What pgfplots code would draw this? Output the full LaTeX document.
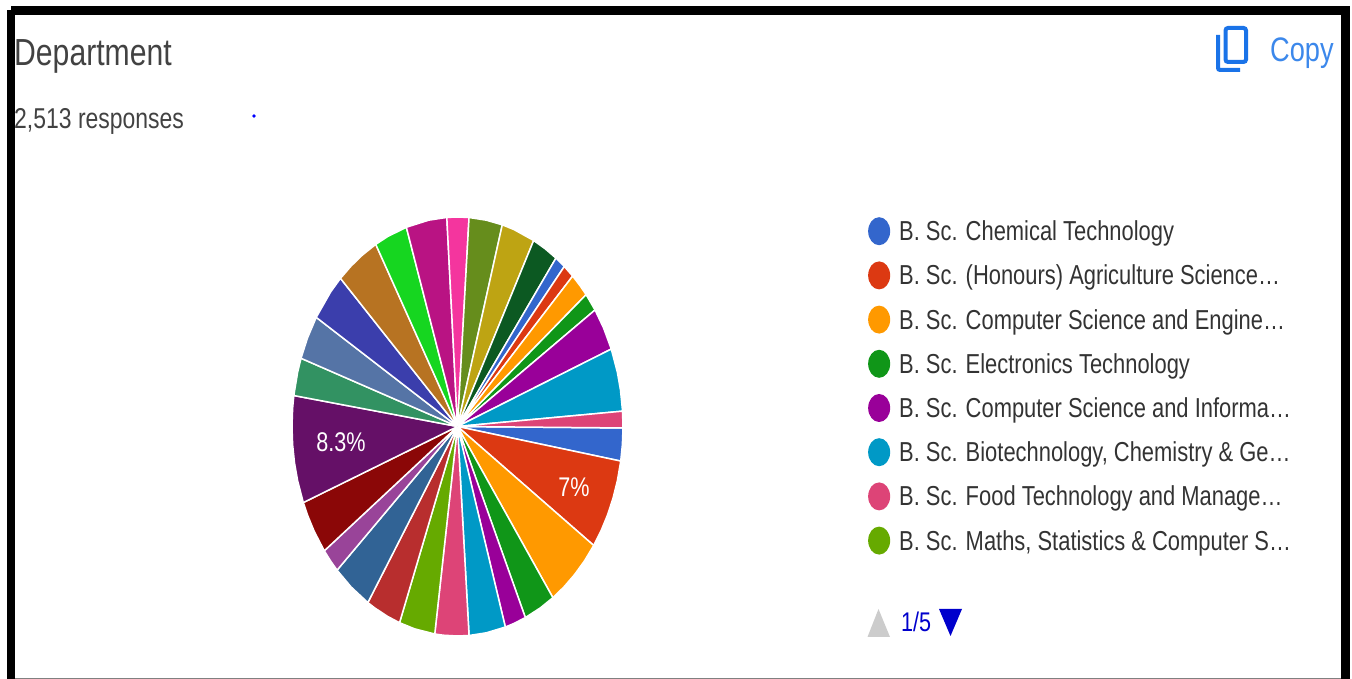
\documentclass[border=0pt]{standalone}
\usepackage{pgfplots}
\pgfplotsset{compat=1.18}
\usepackage{fontspec}
\setmainfont[FakeStretch=0.8]{Liberation Sans}

% google chart palette
\definecolor{c1}{HTML}{3366CC}
\definecolor{c2}{HTML}{DC3912}
\definecolor{c3}{HTML}{FF9900}
\definecolor{c4}{HTML}{109618}
\definecolor{c5}{HTML}{990099}
\definecolor{c6}{HTML}{0099C6}
\definecolor{c7}{HTML}{DD4477}
\definecolor{c8}{HTML}{66AA00}
\definecolor{c9}{HTML}{B82E2E}
\definecolor{c10}{HTML}{316395}
\definecolor{c11}{HTML}{994499}
\definecolor{c12}{HTML}{8B0707}
\definecolor{c13}{HTML}{651067}
\definecolor{c14}{HTML}{329262}
\definecolor{c15}{HTML}{5574A6}
\definecolor{c16}{HTML}{3B3EAC}
\definecolor{c17}{HTML}{B77322}
\definecolor{c18}{HTML}{16D620}
\definecolor{c19}{HTML}{B91383}
\definecolor{c20}{HTML}{F4359E}
\definecolor{c21}{HTML}{668D1C}
\definecolor{c22}{HTML}{BEA413}
\definecolor{c23}{HTML}{0C5922}
\definecolor{titlegrey}{HTML}{424242}
\definecolor{legtext}{HTML}{333333}
\definecolor{copyblue}{HTML}{1A73E8}
\definecolor{navblue}{HTML}{0000CC}

\newcommand{\fs}[1]{\fontsize{#1}{#1}\selectfont}

\begin{document}
\begin{tikzpicture}
\path[use as bounding box] (0pt,0pt) rectangle (1352pt,679pt);

\begin{axis}[
    at={(292pt,43pt)}, anchor=south west,
    scale only axis, width=331pt, height=419pt,
    hide axis, clip=false,
    xmin=-1, xmax=1, ymin=-1, ymax=1,
    data cs=polar,
    every axis plot/.append style={draw=white, line width=1.5pt, line join=round},
    legend cell align=left,
    legend image code/.code={\fill[#1, draw=none] (0pt,3.5pt) ellipse[x radius=11pt, y radius=14pt];},
    legend style={
        at={(1.74,1.0)}, anchor=north west,
        draw=none, fill=none, inner sep=0pt,
        row sep=12.7pt, /tikz/every odd column/.append style={column sep=9pt},
        nodes={inner sep=0pt, text height=20pt, text depth=8pt, text=legtext},
        font=\fs{27.4},
    },
]
% slices run clockwise, angle from 3 o'clock
\addplot[fill=c1] coordinates {(0,0)(-0.4,1)(-5,1)(-9.5,1)(0,0)};
\addlegendentry{B. Sc. Chemical Technology}
\addplot[fill=c2] coordinates {(0,0)(-9.5,1)(-15,1)(-20,1)(-25,1)(-30,1)(-34.6,1)(0,0)};
\addlegendentry{B. Sc. (Honours) Agriculture Science…}
\addplot[fill=c3] coordinates {(0,0)(-34.6,1)(-40,1)(-45,1)(-50,1)(-54.8,1)(0,0)};
\addlegendentry{B. Sc. Computer Science and Engine…}
\addplot[fill=c4] coordinates {(0,0)(-54.8,1)(-60,1)(-65.8,1)(0,0)};
\addlegendentry{B. Sc. Electronics Technology}
\addplot[fill=c5] coordinates {(0,0)(-65.8,1)(-70,1)(-73.2,1)(0,0)};
\addlegendentry{B. Sc. Computer Science and Informa…}
\addplot[fill=c6] coordinates {(0,0)(-73.2,1)(-80,1)(-86,1)(0,0)};
\addlegendentry{B. Sc. Biotechnology, Chemistry \& Ge…}
\addplot[fill=c7] coordinates {(0,0)(-86,1)(-90,1)(-95,1)(-97.9,1)(0,0)};
\addlegendentry{B. Sc. Food Technology and Manage…}
\addplot[fill=c8] coordinates {(0,0)(-97.9,1)(-105,1)(-110.5,1)(0,0)};
\addlegendentry{B. Sc. Maths, Statistics \& Computer S…}
% the other slices belong to later legend pages
\addplot[forget plot, fill=c9] coordinates {(0,0)(-110.5,1)(-115,1)(-120,1)(-122.8,1)(0,0)};
\addplot[forget plot, fill=c10] coordinates {(0,0)(-122.8,1)(-130,1)(-136.7,1)(0,0)};
\addplot[forget plot, fill=c11] coordinates {(0,0)(-136.7,1)(-140,1)(-143.6,1)(0,0)};
\addplot[forget plot, fill=c12] coordinates {(0,0)(-143.6,1)(-150,1)(-155,1)(-158.7,1)(0,0)};
\addplot[forget plot, fill=c13] coordinates {(0,0)(-158.7,1)(-165,1)(-170,1)(-175,1)(-180,1)(-185,1)(-188.5,1)(0,0)};
\addplot[forget plot, fill=c14] coordinates {(0,0)(171.5,1)(165,1)(161,1)(0,0)};
\addplot[forget plot, fill=c15] coordinates {(0,0)(161,1)(155,1)(148.6,1)(0,0)};
\addplot[forget plot, fill=c16] coordinates {(0,0)(148.6,1)(140,1)(135,1)(0,0)};
\addplot[forget plot, fill=c17] coordinates {(0,0)(135,1)(130,1)(125,1)(119.6,1)(0,0)};
\addplot[forget plot, fill=c18] coordinates {(0,0)(119.6,1)(115,1)(108,1)(0,0)};
\addplot[forget plot, fill=c19] coordinates {(0,0)(108,1)(100,1)(93.7,1)(0,0)};
\addplot[forget plot, fill=c20] coordinates {(0,0)(93.7,1)(90,1)(86,1)(0,0)};
\addplot[forget plot, fill=c21] coordinates {(0,0)(86,1)(80,1)(74.3,1)(0,0)};
\addplot[forget plot, fill=c22] coordinates {(0,0)(74.3,1)(70,1)(62.6,1)(0,0)};
\addplot[forget plot, fill=c23] coordinates {(0,0)(62.6,1)(58,1)(53.5,1)(0,0)};
\addplot[forget plot, fill=c1] coordinates {(0,0)(53.5,1)(49.8,1)(0,0)};
\addplot[forget plot, fill=c2] coordinates {(0,0)(49.8,1)(45.9,1)(0,0)};
\addplot[forget plot, fill=c3] coordinates {(0,0)(45.9,1)(42,1)(39,1)(0,0)};
\addplot[forget plot, fill=c4] coordinates {(0,0)(39,1)(33.8,1)(0,0)};
\addplot[forget plot, fill=c5] coordinates {(0,0)(33.8,1)(28,1)(21.7,1)(0,0)};
\addplot[forget plot, fill=c6] coordinates {(0,0)(21.7,1)(15,1)(10,1)(4.2,1)(0,0)};
\addplot[forget plot, fill=c7] coordinates {(0,0)(4.2,1)(-0.4,1)(0,0)};
\end{axis}

% everything else in reference pixels, y down
\begin{scope}[x=1pt, y=-1pt, shift={(0pt,679pt)}]
  \draw[black, line width=8.5pt] (11,10.5) -- (1345.5,10.5) -- (1345.5,690);
  \draw[black, line width=8.5pt] (11,10.5) -- (11,690);
  \draw[gray, line width=1.2pt] (15,678.4) -- (1341,678.4);

  \node[anchor=base west, inner sep=0pt, text=titlegrey, font=\fs{37.7}] at (14,66) {Department};
  \node[anchor=base west, inner sep=0pt, text=titlegrey, font=\fs{28.7}] at (14,128.5) {2,513 responses};
  \fill[blue] (254,116) circle (1.8);

  % copy icon
  \draw[copyblue, line width=4pt, rounded corners=2.5pt] (1225.5,28) rectangle (1246,62);
  \draw[copyblue, line width=4pt, rounded corners=2pt] (1218,35) -- (1218,70) -- (1240,70);
  \node[anchor=base west, inner sep=0pt, text=copyblue!85!white, font=\fs{34}] at (1270,61.5) {Copy};

  \node[anchor=base, inner sep=0pt, text=white, font=\fs{27}] at (341,452) {8.3\%};
  \node[anchor=base, inner sep=0pt, text=white, font=\fs{27}] at (574,497) {7\%};

  % legend pager
  \fill[black!20] (878.5,609) -- (890,637) -- (867.5,637) -- cycle;
  \node[anchor=base west, inner sep=0pt, text=navblue, font=\fs{27}] at (901,632) {1/5};
  \fill[navblue] (939,609) -- (962,609) -- (950.5,636) -- cycle;
\end{scope}
\end{tikzpicture}
\end{document}
